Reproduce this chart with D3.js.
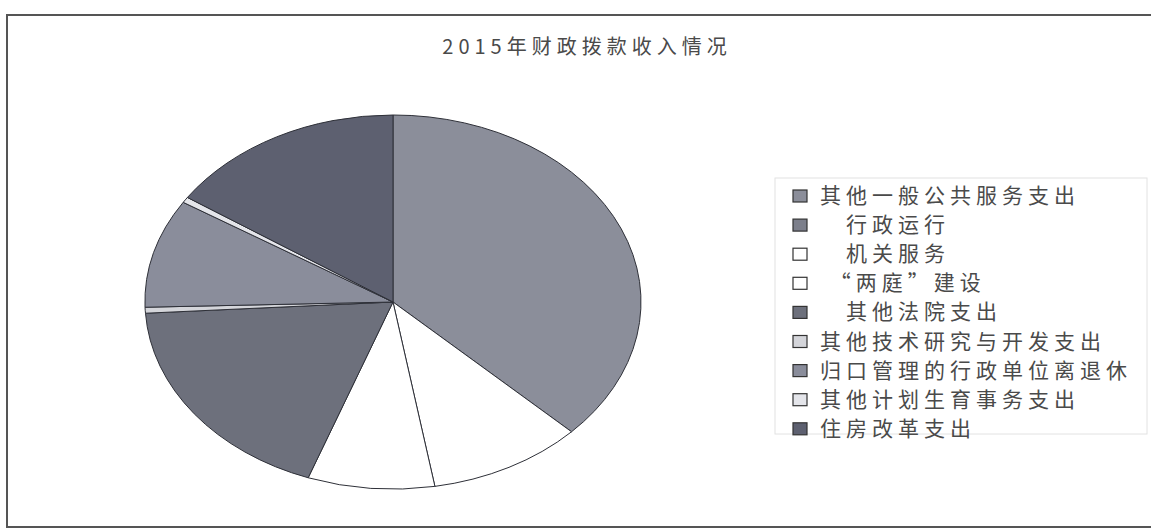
<!DOCTYPE html>
<html>
<head>
<meta charset="utf-8">
<script src="https://cdn.jsdelivr.net/npm/d3@7"></script>
<style>
  body { margin: 0; background: #fff; }
  text { font-family: "Noto Sans CJK SC", sans-serif; fill: #4a4a4a; white-space: pre; }
</style>
</head>
<body>
<div id="vis"></div>
<script>
const titleText = '2015年财政拨款收入情况';
const categories = [
  '其他一般公共服务支出',
  '　行政运行',
  '　机关服务',
  ' “两庭”建设',
  '　其他法院支出',
  '其他技术研究与开发支出',
  '归口管理的行政单位离退休',
  '其他计划生育事务支出',
  '住房改革支出'
];
const values = [37.2, 0, 10.1, 8.25, 18.5, 0.5, 9.4, 0.5, 15.55];
const fills = ['#8b8e9a', '#7c7f8b', '#ffffff', '#ffffff', '#6d707c', '#d4d5da', '#8a8d9b', '#e4e5ea', '#5d6070'];

const W = 1151, H = 532;
const cx = 393, cy = 302, rx = 248, ry = 187;

const $svg = d3.select('#vis').append('svg')
  .attr('width', W).attr('height', H);

// outer frame (right edge runs off the page)
$svg.append('path')
  .attr('d', `M${W + 5},15 H7 V527 H${W + 5}`)
  .attr('fill', 'none')
  .attr('stroke', '#555')
  .attr('stroke-width', 2);

$svg.append('text')
  .attr('x', 587).attr('y', 54)
  .attr('text-anchor', 'middle')
  .attr('font-size', 20)
  .attr('letter-spacing', 5)
  .text(titleText);

// pie drawn on a unit circle, stretched into the ellipse
const pie = d3.pie().sort(null).value(d => d.value);
const arc = d3.arc().innerRadius(0).outerRadius(1);
const data = categories.map((c, i) => ({ name: c, value: values[i], fill: fills[i] }));

const $pie = $svg.append('g')
  .attr('transform', `translate(${cx},${cy}) scale(${rx},${ry})`);

$pie.selectAll('path')
  .data(pie(data).filter(d => d.data.value > 0))
  .enter()
  .append('path')
  .attr('d', arc)
  .attr('fill', d => d.data.fill)
  .attr('stroke', '#2e3038')
  .attr('stroke-width', 1)
  .attr('vector-effect', 'non-scaling-stroke');

// legend
const lx = 775, ly = 178, rowH = 29.1;
$svg.append('rect')
  .attr('x', lx).attr('y', ly)
  .attr('width', 372).attr('height', 256)
  .attr('fill', 'none')
  .attr('stroke', '#e2e2e2')
  .attr('stroke-width', 1);

const $items = $svg.append('g').selectAll('g')
  .data(data)
  .enter()
  .append('g')
  .attr('transform', (d, i) => `translate(${lx}, ${ly + 12 + i * rowH})`);

$items.append('rect')
  .attr('x', 18).attr('y', 0)
  .attr('width', 14).attr('height', 12)
  .attr('fill', d => d.fill)
  .attr('stroke', '#333')
  .attr('stroke-width', 1.2);

$items.append('text')
  .attr('x', 45).attr('y', 13)
  .attr('font-size', 21)
  .attr('letter-spacing', 5)
  .text(d => d.name);
</script>
</body>
</html>
